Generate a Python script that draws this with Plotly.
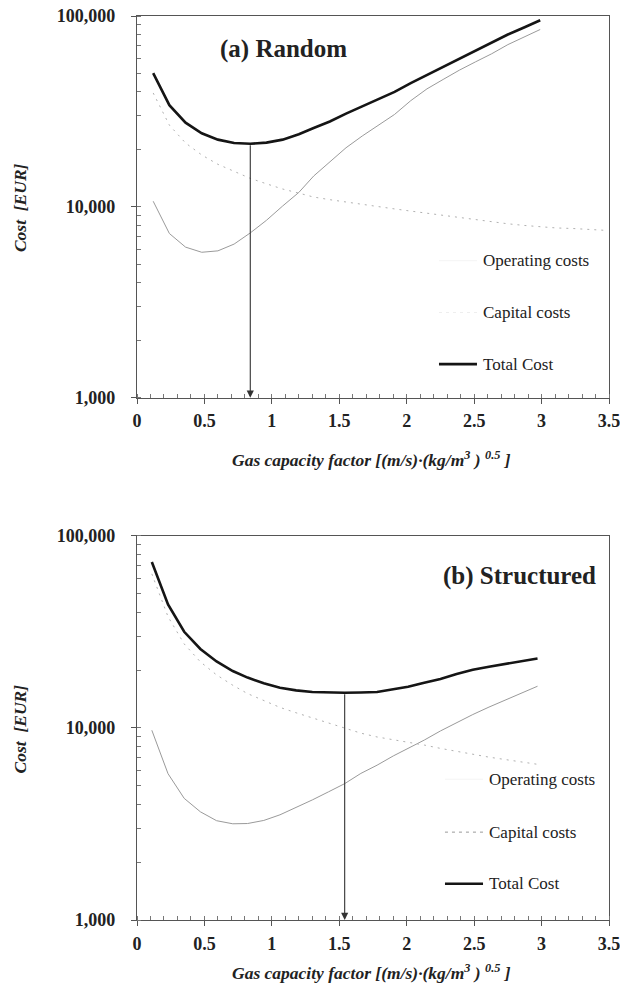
import math
import plotly.graph_objects as go

# (a) Random packing
x_a = [0.12, 0.24, 0.36, 0.48, 0.60, 0.72, 0.84, 0.96, 1.08, 1.20, 1.31, 1.43, 1.55,
       1.67, 1.79, 1.91, 2.03, 2.15, 2.27, 2.39, 2.51, 2.63, 2.75, 2.87, 2.99]
x_a_cap = x_a + [3.11, 3.23, 3.35, 3.46]
operating_a = [10700, 7250, 6150, 5780, 5880, 6380, 7300, 8500, 10100, 11900, 14500, 17300, 20400,
               23500, 26800, 30500, 36000, 41500, 46500, 52000, 57500, 63400, 70800, 77600, 85000]
capital_a = [39500, 26800, 21600, 18700, 16700, 15300, 14100, 13200, 12400, 11800, 11250, 10900, 10580,
             10300, 10000, 9750, 9500, 9250, 9020, 8820, 8600, 8370, 8150, 7990, 7850,
             7750, 7700, 7620, 7540]
total_a = [50200, 34100, 27600, 24300, 22500, 21600, 21400, 21700, 22500, 24000, 25900, 28000, 30800,
           33600, 36600, 40000, 44500, 49000, 54000, 59800, 66000, 72700, 80000, 87000, 95000]

# (b) Structured packing
x_b = [0.11, 0.23, 0.35, 0.47, 0.59, 0.71, 0.82, 0.94, 1.06, 1.18, 1.30, 1.42, 1.54,
       1.66, 1.78, 1.90, 2.01, 2.13, 2.25, 2.37, 2.49, 2.61, 2.73, 2.85, 2.97]
operating_b = [9730, 5780, 4300, 3660, 3290, 3170, 3180, 3300, 3530, 3850, 4220, 4650, 5130,
               5800, 6400, 7150, 7800, 8650, 9650, 10700, 11750, 12850, 14000, 15200, 16500]
capital_b = [63500, 38000, 27400, 22100, 18900, 16700, 15100, 13900, 12800, 12000, 11300, 10600, 10050,
             9400, 8980, 8700, 8450, 8150, 7830, 7550, 7270, 7050, 6850, 6650, 6470]
total_b = [73200, 44000, 31700, 25800, 22200, 19800, 18300, 17100, 16200, 15700, 15400, 15300, 15250,
           15300, 15400, 15900, 16400, 17200, 18000, 19100, 20100, 20850, 21600, 22300, 23000]

y_ticks = [1000, 10000, 100000]
x_title = "<b><i>Gas capacity factor [(m/s)·(kg/m<sup>3</sup> ) <sup>0.5</sup> ]</i></b>"
y_title = "<b><i>Cost  [EUR]</i></b>"

SERIF = "Liberation Serif"
AXIS_COL = "#555555"

fig = go.Figure()


def add_panel(xs, xs_cap, op, cap, tot, xa, ya):
    fig.add_trace(go.Scatter(x=xs, y=op, mode="lines", line=dict(color="#9a9a9a", width=1),
                             xaxis=xa, yaxis=ya, showlegend=False))
    fig.add_trace(go.Scatter(x=xs_cap, y=cap, mode="lines",
                             line=dict(color="#b0b0b0", width=1, dash="2px,5px"),
                             xaxis=xa, yaxis=ya, showlegend=False))
    fig.add_trace(go.Scatter(x=xs, y=tot, mode="lines", line=dict(color="#151515", width=2.6),
                             xaxis=xa, yaxis=ya, showlegend=False))
    # arrow from the cost minimum down to the x axis
    i_min = tot.index(min(tot))
    fig.add_annotation(x=xs[i_min], y=3, ax=xs[i_min], ay=math.log10(tot[i_min]),
                       xref=xa, yref=ya, axref=xa, ayref=ya, text="",
                       showarrow=True, arrowhead=2, arrowsize=1.3, arrowwidth=1.1,
                       arrowcolor="#333333")


add_panel(x_a, x_a_cap, operating_a, capital_a, total_a, "x", "y")
add_panel(x_b, x_b, operating_b, capital_b, total_b, "x2", "y2")

xaxis_style = dict(
    range=[0, 3.5], dtick=0.5, ticks="outside", ticklen=5, tickcolor=AXIS_COL, automargin=False,
    showline=True, mirror=True, linecolor=AXIS_COL, linewidth=1.3, showgrid=False, zeroline=False,
    tickfont=dict(family=SERIF, size=18, color="#222", weight="bold"), ticklabelstandoff=2,
    ticklabeloverflow="allow",
    minor=dict(dtick=0.1, ticks="inside", ticklen=4, tickcolor="#777", showgrid=False),
)
yaxis_style = dict(
    type="log", range=[3, 5], tickvals=y_ticks, tickformat=",.0f", ticks="outside", ticklen=5,
    tickcolor=AXIS_COL, showline=True, mirror=True, linecolor=AXIS_COL, linewidth=1.3,
    showgrid=False, zeroline=False, ticklabelstandoff=12, automargin=False,
    ticklabeloverflow="allow",
    tickfont=dict(family=SERIF, size=18, color="#222", weight="bold"),
    minor=dict(dtick="D1", ticks="inside", ticklen=4, tickcolor="#777", showgrid=False),
)

# the page adds an 8px body margin, so margins are shifted by that much
fig.update_layout(
    width=628, height=992,
    margin=dict(l=129, r=27, t=8, b=80),
    paper_bgcolor="white", plot_bgcolor="white",
    showlegend=False,
    xaxis=dict(xaxis_style, domain=[0, 1], anchor="y"),
    yaxis=dict(yaxis_style, domain=[0.5778, 1], anchor="x"),
    xaxis2=dict(xaxis_style, domain=[0, 1], anchor="y2"),
    yaxis2=dict(yaxis_style, domain=[0, 0.4248], anchor="x2"),
)


def note(x, y, text, size, xanchor="center", angle=0):
    fig.add_annotation(x=x, y=y, xref="paper", yref="paper", text=text, textangle=angle,
                       xanchor=xanchor, yanchor="middle", showarrow=False,
                       font=dict(family=SERIF, size=size, color="#222"))


# axis titles
for y_axis_title, y_x_title in [(0.7886, 0.5105), (0.2119, -0.0575)]:
    note(-0.2479, y_axis_title, y_title, 17.5, angle=-90)
    note(0.497, y_x_title, x_title, 17.5)

# panel titles
note(0.311, 0.9635, "<b>(a) Random</b>", 25)
note(0.8114, 0.3801, "<b>(b) Structured</b>", 25)

# hand-placed legends
legend_rows = [
    ("Operating costs", dict(color="#f4f4f4", width=1), [0.7293, 0.1557]),
    ("Capital costs", dict(color="#eeeeee", width=1, dash="3px,4px"), [0.6720, 0.0972]),
    ("Total Cost", dict(color="#151515", width=2.6), [0.6149, 0.0401]),
]
legend_x = [(0.7282, 0.6398, 0.7203), (0.7409, 0.6525, 0.7331)]
for panel in range(2):
    tx, lx0, lx1 = legend_x[panel]
    for label, line, ys in legend_rows:
        yy = ys[panel]
        ln = dict(line)
        if panel == 1 and label == "Capital costs":
            ln["color"] = "#9a9a9a"
        fig.add_shape(type="line", xref="paper", yref="paper", x0=lx0, x1=lx1, y0=yy, y1=yy, line=ln)
        note(tx, yy, label, 17, xanchor="left")

fig.write_html("out.html")
